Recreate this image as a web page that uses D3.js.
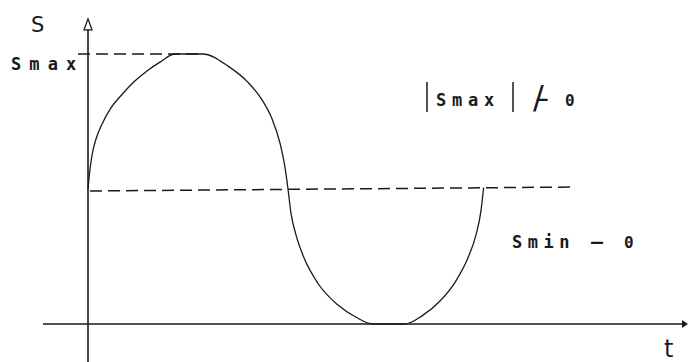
<!DOCTYPE html>
<html>
<head>
<meta charset="utf-8">
<script src="https://cdn.jsdelivr.net/npm/d3@7"></script>
<style>
  html, body { margin: 0; padding: 0; background: #fff; }
  svg { display: block; }
</style>
</head>
<body>
<svg id="drawing_region"></svg>
<script>
// curve: t (time) and S (normalised, Smin=0, Smax=1)
const curveT = [0, 0.008, 0.02, 0.04, 0.07, 0.11, 0.17, 0.23, 0.30, 0.36, 0.435,
                0.575, 0.70, 0.80, 0.87, 0.92, 0.96, 0.985, 1.0,
                1.015, 1.04, 1.08, 1.15, 1.25, 1.34, 1.425, 1.585, 1.67, 1.76, 1.84, 1.90, 1.94, 1.965, 1.978];
const curveS = [0.5, 0.56, 0.625, 0.685, 0.74, 0.795, 0.85, 0.897, 0.94, 0.97, 1.0,
                1.0, 0.955, 0.895, 0.83, 0.76, 0.67, 0.58, 0.5,
                0.41, 0.33, 0.245, 0.15, 0.07, 0.025, 0, 0, 0.03, 0.085, 0.16, 0.245, 0.33, 0.42, 0.505];

const sMax = 1;
const sMid = 0.5;
const axisLabels = ["S", "t"];
const maxLabel = "Smax";
const minLabel = "Smin";

const width = 689, height = 362;

const svg = d3.select("#drawing_region")
    .attr("width", width)
    .attr("height", height);

const x = d3.scaleLinear().domain([0, 1]).range([88, 288]);
const y = d3.scaleLinear().domain([0, 1]).range([324, 54]);

const ink = "#1a1a1a";

// dashed guides
svg.append("line")
    .attr("x1", x(-0.05)).attr("x2", x(0.56))
    .attr("y1", y(sMax)).attr("y2", y(sMax))
    .attr("stroke", ink).attr("stroke-width", 1.5)
    .attr("stroke-dasharray", "12,6");

svg.append("line")
    .attr("x1", x(0.01)).attr("x2", x(2.44))
    .attr("y1", y(sMid) + 2).attr("y2", y(sMid) - 2)
    .attr("stroke", ink).attr("stroke-width", 1.5)
    .attr("stroke-dasharray", "12,6");

// axes
svg.append("line")
    .attr("x1", x(-0.225)).attr("x2", x(2.99))
    .attr("y1", y(0)).attr("y2", y(0))
    .attr("stroke", ink).attr("stroke-width", 1.6);

svg.append("line")
    .attr("x1", x(0)).attr("x2", x(0))
    .attr("y1", height).attr("y2", y(1.12))
    .attr("stroke", ink).attr("stroke-width", 1.6);

// arrow heads
const ay = y(1.13);
svg.append("path")
    .attr("d", `M${x(0) - 4},${ay + 11} L${x(0)},${ay} L${x(0) + 4},${ay + 11} Z`)
    .attr("fill", "#fff").attr("stroke", ink).attr("stroke-width", 1.3);

const ax = x(3.0);
svg.append("path")
    .attr("d", `M${ax - 6},${y(0) - 4} L${ax},${y(0)} L${ax - 6},${y(0) + 4} Z`)
    .attr("fill", ink);

// the curve
const pts = curveT.map((t, i) => [t, curveS[i]]);
const line = d3.line()
    .x(d => x(d[0]))
    .y(d => y(d[1]))
    .curve(d3.curveMonotoneX);

svg.append("path")
    .datum(pts)
    .attr("d", line)
    .attr("fill", "none")
    .attr("stroke", ink)
    .attr("stroke-width", 1.3);

// labels
const mono = "'DejaVu Sans Mono', monospace";

svg.append("text")
    .attr("x", 31).attr("y", 32)
    .attr("font-family", "'DejaVu Sans', sans-serif")
    .attr("font-size", 21)
    .attr("fill", ink)
    .text(axisLabels[0]);

svg.append("text")
    .attr("x", 664).attr("y", 357)
    .attr("font-family", "'DejaVu Sans', sans-serif")
    .attr("font-size", 24)
    .attr("fill", ink)
    .text(axisLabels[1]);

svg.append("text")
    .attr("x", 11).attr("y", 70)
    .attr("font-family", mono)
    .attr("font-weight", "bold")
    .attr("font-size", 17)
    .attr("letter-spacing", 8.1)
    .attr("fill", ink)
    .text(maxLabel);

// |Smax| ≠ 0
const g = svg.append("g").attr("fill", ink).attr("stroke", ink);
g.append("line").attr("x1", 427).attr("x2", 427).attr("y1", 82).attr("y2", 112).attr("stroke-width", 1.5);
g.append("line").attr("x1", 513).attr("x2", 513).attr("y1", 82).attr("y2", 112).attr("stroke-width", 1.5);
g.append("text")
    .attr("x", 436).attr("y", 106)
    .attr("stroke", "none")
    .attr("font-family", mono)
    .attr("font-weight", "bold")
    .attr("font-size", 17)
    .attr("letter-spacing", 5.8)
    .text(maxLabel);

// slashed dash drawn as one text: "/" with "–" laid over it
const ne = g.append("text")
    .attr("x", 533).attr("y", 108)
    .attr("stroke", "none")
    .attr("font-family", "'DejaVu Sans', sans-serif")
    .attr("font-size", 32);
ne.append("tspan").text("/");
ne.append("tspan")
    .attr("dx", -7).attr("dy", -3)
    .attr("font-family", mono)
    .attr("font-weight", "bold")
    .attr("font-size", 18)
    .text("\u2013");

g.append("text")
    .attr("x", 565).attr("y", 106)
    .attr("stroke", "none")
    .attr("font-family", mono)
    .attr("font-weight", "bold")
    .attr("font-size", 16)
    .text("0");

// Smin = 0
svg.append("text")
    .attr("x", 512).attr("y", 248)
    .attr("font-family", mono)
    .attr("font-weight", "bold")
    .attr("font-size", 17)
    .attr("letter-spacing", 5.5)
    .attr("fill", ink)
    .text(minLabel);
svg.append("text")
    .attr("x", 591).attr("y", 248)
    .attr("font-family", mono)
    .attr("font-weight", "bold")
    .attr("font-size", 20)
    .attr("fill", ink)
    .text("\u2013");
svg.append("text")
    .attr("x", 624).attr("y", 248)
    .attr("font-family", mono)
    .attr("font-weight", "bold")
    .attr("font-size", 16)
    .attr("fill", ink)
    .text("0");
</script>
</body>
</html>
